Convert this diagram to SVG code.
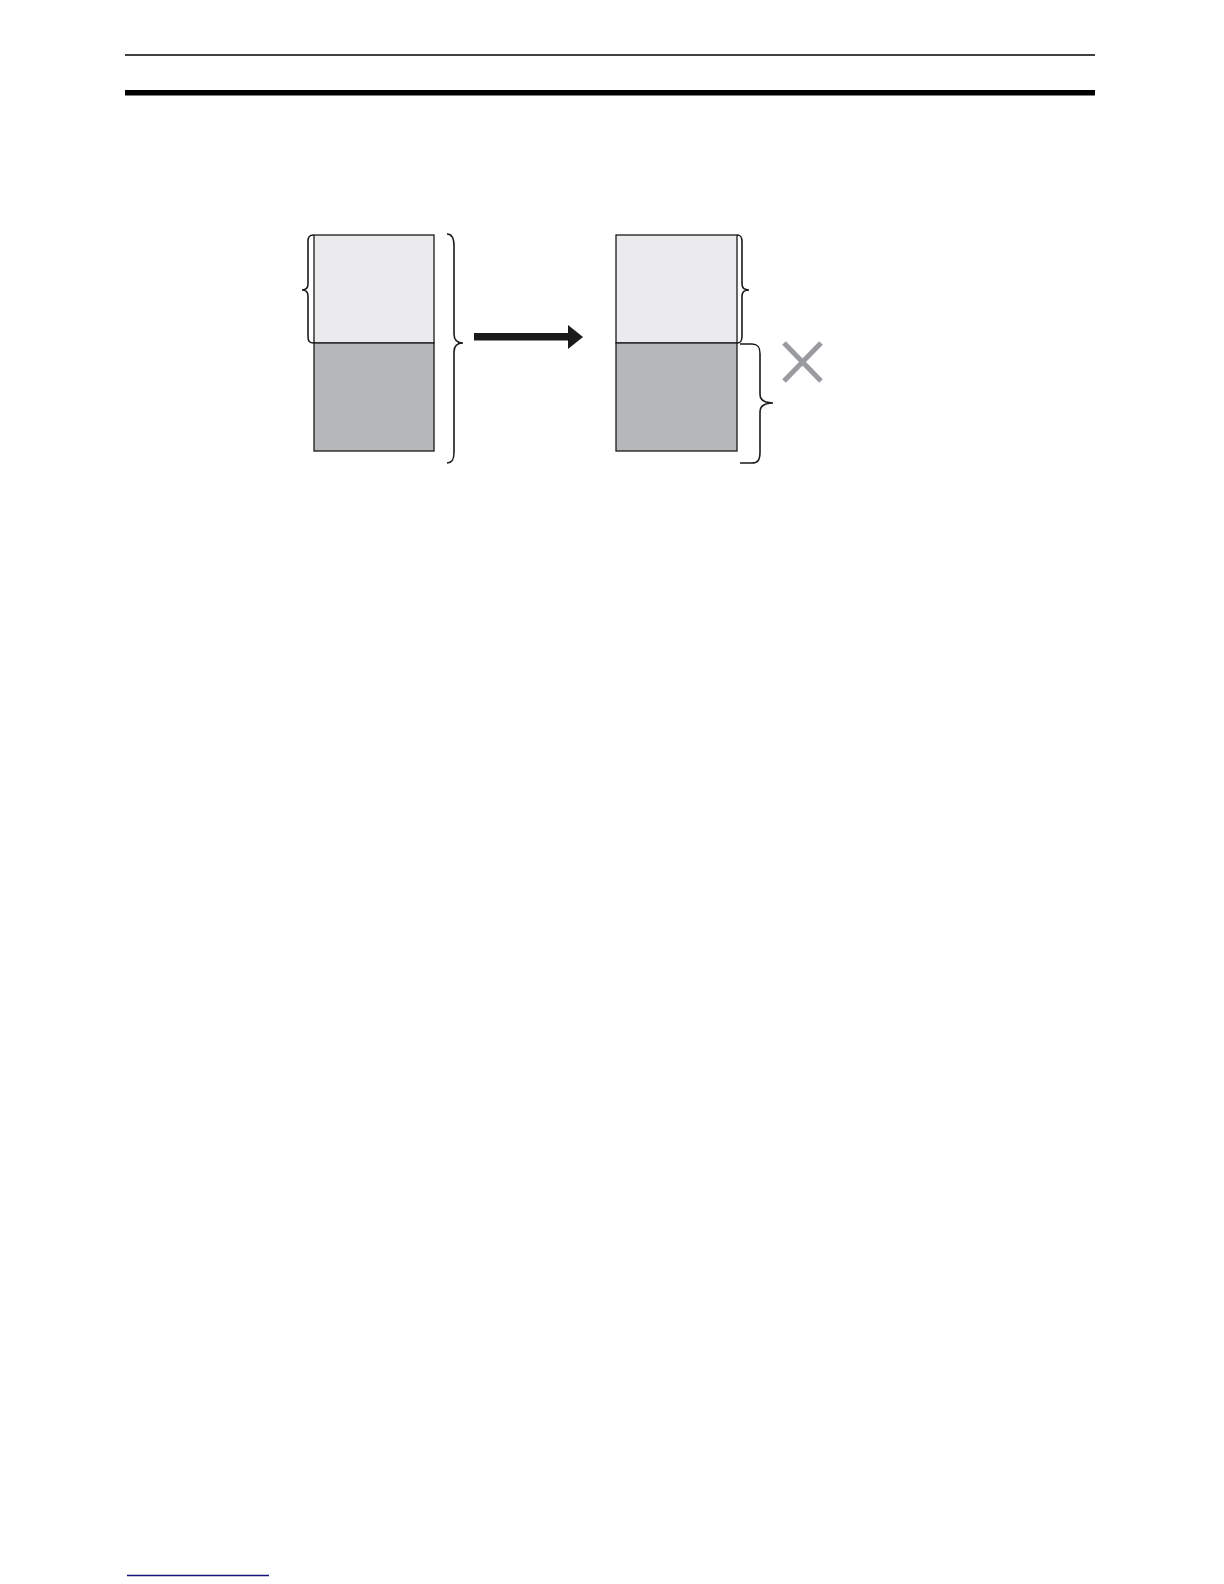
<svg xmlns="http://www.w3.org/2000/svg" width="1224" height="1584" viewBox="0 0 1224 1584">
<style>
.light{fill:#ebebed;stroke:#1a1a1a;stroke-width:1.3}
.dark{fill:#b5b7ba;stroke:#1a1a1a;stroke-width:1.3}
.brace{fill:none;stroke:#1a1a1a;stroke-width:1.6}
</style>
<rect width="1224" height="1584" fill="#ffffff"/>
<line x1="125" y1="55" x2="1095" y2="55" stroke="#000" stroke-width="1.5"/>
<rect x="125" y="90" width="970" height="5.5" fill="#000"/>
<g id="left-block">
<rect class="light" x="314" y="235" width="120" height="108"/>
<rect class="dark" x="314" y="343" width="120" height="108"/>
</g>
<g id="right-block">
<rect class="light" x="616" y="235" width="121" height="108"/>
<rect class="dark" x="616" y="343" width="121" height="108"/>
</g>
<g id="braces">
<path class="brace" d="M314,235 C309,235 308,237 308,242 L308,284 C308,288 306,290 302,290 C306,290 308,292 308,296 L308,336 C308,341 309,343 314,343"/>
<path class="brace" d="M447,234 C452,234 454,238 454,246 L454,334 C454,340 457,343 463,343 C457,343 454,346 454,352 L454,452 C454,460 452,463 447,463"/>
<path class="brace" d="M737,235 C741,235 742,237 742,242 L742,284 C742,288 744,290 749,290 C744,290 742,292 742,296 L742,336 C742,341 741,343 737,343"/>
<path class="brace" d="M740,344 L752,344 C758,344 760,347 760,354 L760,394 C760,400 764,403 773,403 C764,403 760,406 760,412 L760,452 C760,460 758,463 752,463 L740,463"/>
</g>
<g id="connectors">
<rect x="474" y="333" width="95" height="7.5" fill="#1a1a1a"/>
<polygon points="568,325 583,337 568,349" fill="#1a1a1a"/>
</g>
<g id="cross">
<line x1="784" y1="343" x2="821" y2="381" stroke="#999b9e" stroke-width="5"/>
<line x1="821" y1="343" x2="784" y2="381" stroke="#999b9e" stroke-width="5"/>
</g>
<line x1="127" y1="1575.5" x2="269" y2="1575.5" stroke="#14147a" stroke-width="1.5"/>
</svg>
